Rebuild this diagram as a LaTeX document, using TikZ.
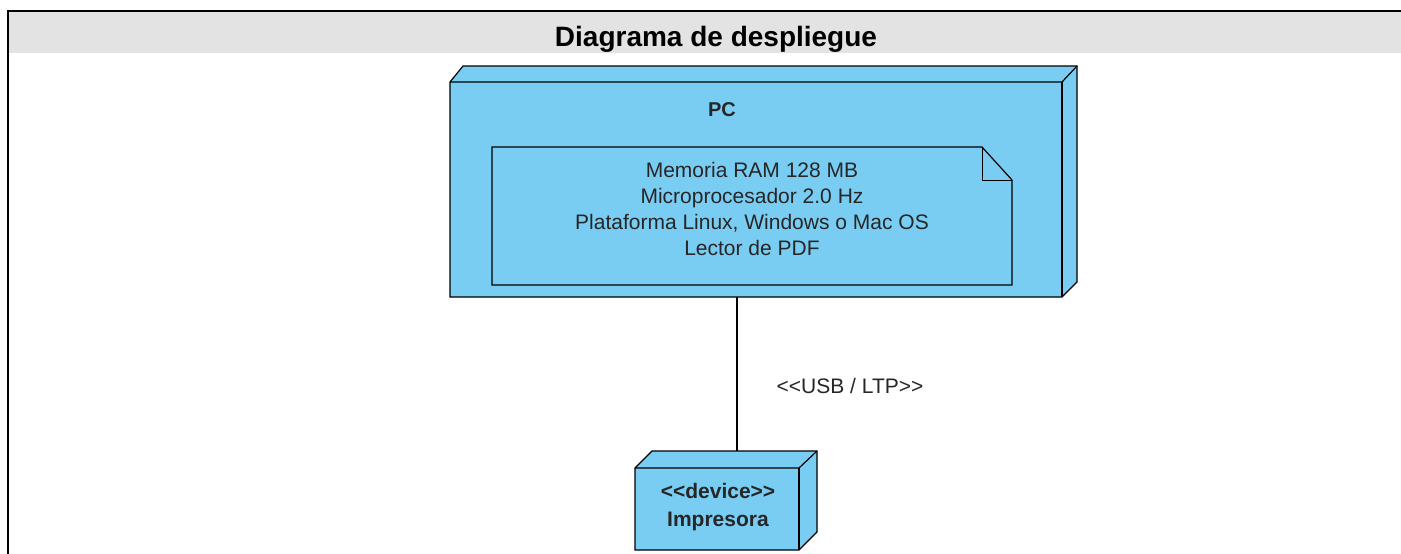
\documentclass[tikz,border=0pt]{standalone}
\usepackage{fontspec}
\setmainfont{Liberation Sans}
\begin{document}
\begin{tikzpicture}[x=1pt,y=-1pt,
  nodefill/.style={fill=nodeblue},
  edgeline/.style={draw=black,line width=1.2pt,line join=miter},
  lbl/.style={text=black!85,inner sep=0pt},
  boldlbl/.style={text=black!85,inner sep=0pt}]
\definecolor{nodeblue}{RGB}{122,205,242}
\definecolor{bandgray}{RGB}{227,227,227}
\useasboundingbox (0,0) rectangle (1401,554);
% frame with title band
\fill[bandgray] (9,12) rectangle (1401,53);
\draw[line width=2pt] (1401,11) -- (8,11) -- (8,554);
\node[font=\fontsize{28}{32}\selectfont\bfseries,inner sep=0pt,anchor=base] (title) at (716,46) {Diagrama de despliegue};

% PC node (3D box)
\path[edgeline,nodefill] (450,82) -- (463,66) -- (1077,66) -- (1077,282) -- (1062,297) -- (450,297) -- cycle;
\draw[edgeline] (450,82) -- (1062,82) -- (1077,66);
\draw[edgeline] (1062,82) -- (1062,297);
\node[boldlbl,font=\fontsize{20}{24}\selectfont\bfseries] (pc) at (722,110) {PC};

% note inside PC
\path[edgeline,nodefill] (492,147) -- (982,147) -- (1012,180) -- (1012,285) -- (492,285) -- cycle;
\draw[edgeline,line width=1pt] (982,147) -- (982,180) -- (1012,180);
\node[lbl,align=center,font=\fontsize{21}{26}\selectfont] (spec) at (752,209)
  {Memoria RAM 128 MB\\Microprocesador 2.0 Hz\\Plataforma Linux, Windows o Mac OS\\Lector de PDF};

% printer node (3D box)
\path[edgeline,nodefill] (635,468) -- (652,451) -- (817,451) -- (817,532) -- (799,550) -- (635,550) -- cycle;
\draw[edgeline] (635,468) -- (799,468) -- (817,451);
\draw[edgeline] (799,468) -- (799,550);
\coordinate (pcBottom) at (737,297);
\coordinate (prTop) at (737,451);
\node[boldlbl,align=center,font=\fontsize{21}{28}\selectfont\bfseries] (printer) at (718,507) {<{}<device>{}>\\Impresora};

% connection
\draw[line width=1.2pt] (pcBottom) -- (prTop);
\node[lbl,font=\fontsize{21}{25}\selectfont] (usb) at (850,386) {<{}<USB / LTP>{}>};
\end{tikzpicture}
\end{document}
